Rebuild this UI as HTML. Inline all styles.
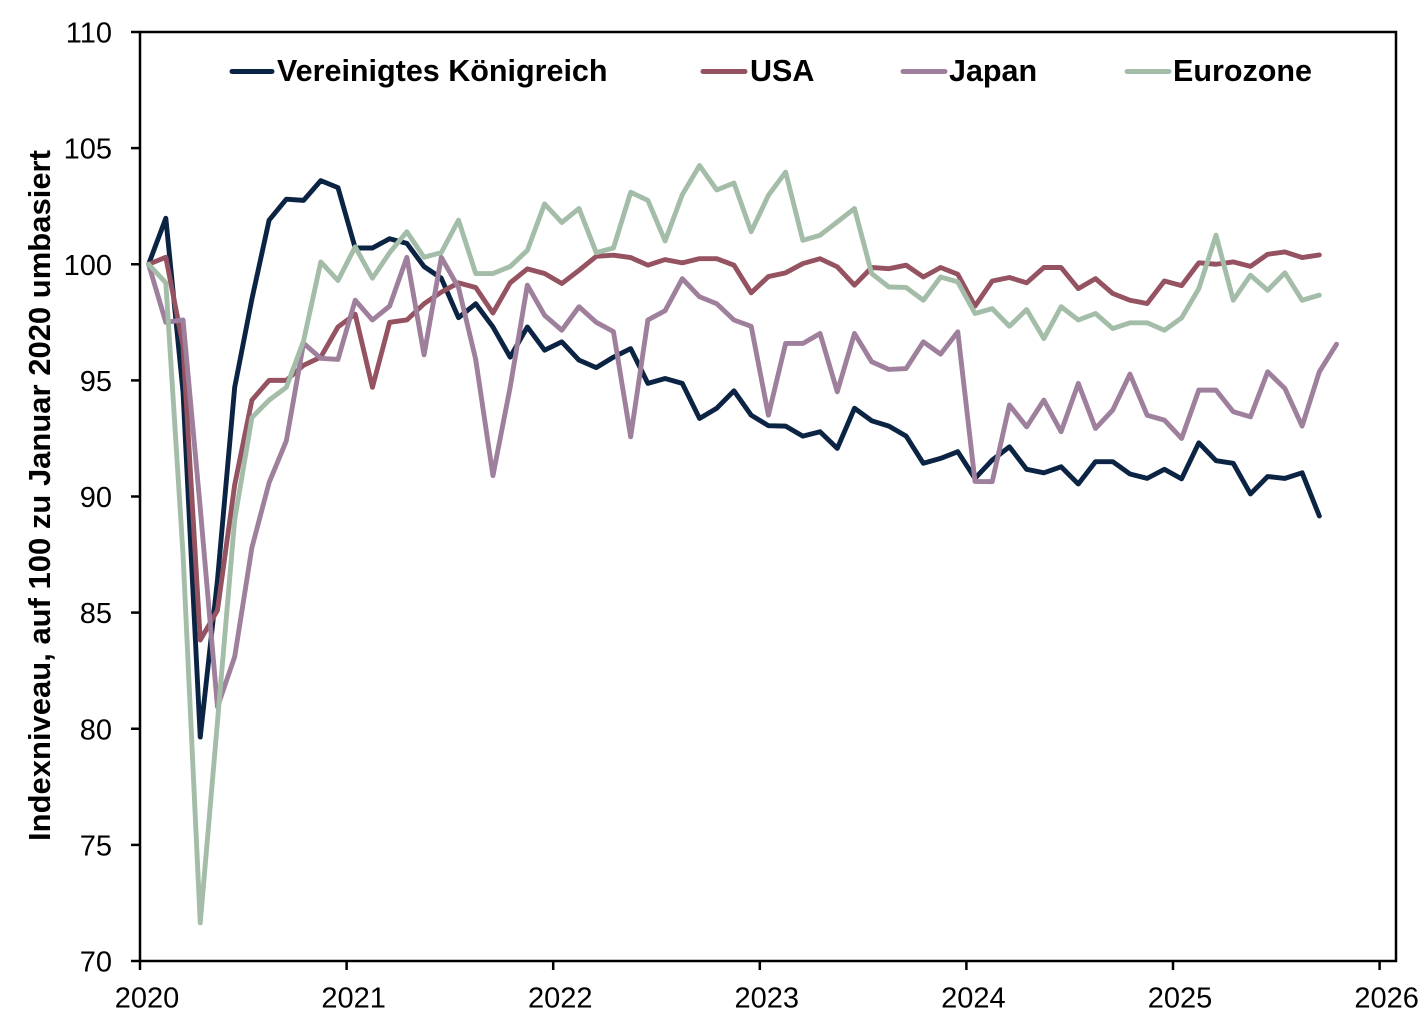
<!DOCTYPE html>
<html>
<head>
<meta charset="utf-8">
<style>
html,body{margin:0;padding:0;background:#fff;}
svg{display:block;}
</style>
</head>
<body>
<svg xmlns="http://www.w3.org/2000/svg" width="1425" height="1034" viewBox="0 0 1425 1034" font-family="'Liberation Sans', Arial, sans-serif">
<rect x="0" y="0" width="1425" height="1034" fill="#ffffff"/>

<!-- series -->
<g transform="matrix(17.2167 0 0 -23.225 148.6 2586.75)" fill="none" stroke-linejoin="round" stroke-linecap="round">
<polyline vector-effect="non-scaling-stroke" stroke="#0c2443" stroke-width="4.9" points="0,100 1,101.98 2,94.5 3,79.64 4,86.4 5,94.7 6,98.5 7,101.9 8,102.8 9,102.75 10,103.6 11,103.3 12,100.7 13,100.7 14,101.1 15,100.9 16,99.9 17,99.4 18,97.7 19,98.3 20,97.3 21,96.0 22,97.3 23,96.3 24,96.66 25,95.87 26,95.55 27,96.0 28,96.37 29,94.87 30,95.08 31,94.87 32,93.36 33,93.8 34,94.55 35,93.5 36,93.05 37,93.03 38,92.6 39,92.79 40,92.07 41,93.8 42,93.26 43,93.03 44,92.6 45,91.43 46,91.64 47,91.93 48,90.78 49,91.57 50,92.14 51,91.17 52,91.02 53,91.28 54,90.54 55,91.5 56,91.5 57,90.97 58,90.78 59,91.17 60,90.76 61,92.31 62,91.54 63,91.43 64,90.11 65,90.86 66,90.78 67,91.02 68,89.16"/>
<polyline vector-effect="non-scaling-stroke" stroke="#955260" stroke-width="4.9" points="0,100 1,100.3 2,96.5 3,83.82 4,85.1 5,90.5 6,94.15 7,95.0 8,95.0 9,95.65 10,96.0 11,97.3 12,97.85 13,94.7 14,97.5 15,97.6 16,98.3 17,98.8 18,99.2 19,99.0 20,97.9 21,99.2 22,99.8 23,99.6 24,99.17 25,99.74 26,100.34 27,100.39 28,100.29 29,99.96 30,100.2 31,100.06 32,100.24 33,100.24 34,99.96 35,98.77 36,99.47 37,99.63 38,100.03 39,100.24 40,99.89 41,99.1 42,99.86 43,99.81 44,99.96 45,99.45 46,99.86 47,99.57 48,98.2 49,99.28 50,99.43 51,99.2 52,99.86 53,99.86 54,98.95 55,99.38 56,98.74 57,98.45 58,98.31 59,99.28 60,99.08 61,100.06 62,100.0 63,100.1 64,99.91 65,100.43 66,100.53 67,100.29 68,100.4"/>
<polyline vector-effect="non-scaling-stroke" stroke="#9e7f9c" stroke-width="4.9" points="0,100 1,97.5 2,97.6 3,89.5 4,80.94 5,83.1 6,87.8 7,90.6 8,92.4 9,96.6 10,95.95 11,95.9 12,98.45 13,97.6 14,98.2 15,100.3 16,96.1 17,100.3 18,99.0 19,95.9 20,90.9 21,94.7 22,99.1 23,97.8 24,97.16 25,98.17 26,97.5 27,97.1 28,92.57 29,97.6 30,98.0 31,99.38 32,98.6 33,98.3 34,97.6 35,97.33 36,93.5 37,96.59 38,96.59 39,97.02 40,94.51 41,97.02 42,95.8 43,95.47 44,95.51 45,96.66 46,96.13 47,97.09 48,90.65 49,90.64 50,93.94 51,93.0 52,94.15 53,92.79 54,94.87 55,92.93 56,93.72 57,95.27 58,93.5 59,93.29 60,92.5 61,94.58 62,94.58 63,93.65 64,93.43 65,95.37 66,94.65 67,93.03 68,95.37 69,96.56"/>
<polyline vector-effect="non-scaling-stroke" stroke="#a4bda8" stroke-width="4.9" points="0,100 1,99.2 2,87.5 3,71.64 4,80.3 5,89.0 6,93.4 7,94.15 8,94.7 9,96.7 10,100.1 11,99.3 12,100.75 13,99.4 14,100.5 15,101.4 16,100.3 17,100.5 18,101.9 19,99.6 20,99.6 21,99.9 22,100.6 23,102.6 24,101.8 25,102.4 26,100.5 27,100.7 28,103.1 29,102.75 30,101.0 31,103.0 32,104.25 33,103.2 34,103.5 35,101.4 36,102.97 37,103.97 38,101.03 39,101.25 40,101.82 41,102.4 42,99.6 43,99.02 44,99.0 45,98.45 46,99.45 47,99.24 48,97.88 49,98.09 50,97.33 51,98.05 52,96.8 53,98.17 54,97.6 55,97.88 56,97.23 57,97.48 58,97.48 59,97.16 60,97.69 61,98.95 62,101.25 63,98.45 64,99.53 65,98.88 66,99.63 67,98.45 68,98.67"/>
</g>

<!-- frame -->
<rect x="140" y="32" width="1256" height="929" fill="none" stroke="#000" stroke-width="2.5"/>

<!-- y ticks -->
<g stroke="#000" stroke-width="2.5">
<line x1="131" y1="32" x2="140" y2="32"/>
<line x1="131" y1="148.1" x2="140" y2="148.1"/>
<line x1="131" y1="264.25" x2="140" y2="264.25"/>
<line x1="131" y1="380.4" x2="140" y2="380.4"/>
<line x1="131" y1="496.5" x2="140" y2="496.5"/>
<line x1="131" y1="612.6" x2="140" y2="612.6"/>
<line x1="131" y1="728.75" x2="140" y2="728.75"/>
<line x1="131" y1="844.9" x2="140" y2="844.9"/>
<line x1="131" y1="961" x2="140" y2="961"/>
</g>
<g font-size="29" fill="#000" text-anchor="end">
<text x="112" y="42.5">110</text>
<text x="112" y="158.6">105</text>
<text x="112" y="274.75">100</text>
<text x="112" y="390.9">95</text>
<text x="112" y="507">90</text>
<text x="112" y="623.1">85</text>
<text x="112" y="739.25">80</text>
<text x="112" y="855.4">75</text>
<text x="112" y="971.5">70</text>
</g>

<!-- x ticks -->
<g stroke="#000" stroke-width="2.5">
<line x1="140" y1="961" x2="140" y2="970"/>
<line x1="346.6" y1="961" x2="346.6" y2="970"/>
<line x1="553.2" y1="961" x2="553.2" y2="970"/>
<line x1="759.8" y1="961" x2="759.8" y2="970"/>
<line x1="966.4" y1="961" x2="966.4" y2="970"/>
<line x1="1173" y1="961" x2="1173" y2="970"/>
<line x1="1379.6" y1="961" x2="1379.6" y2="970"/>
</g>
<g font-size="29" fill="#000" text-anchor="middle">
<text x="147" y="1007.5">2020</text>
<text x="353.6" y="1007.5">2021</text>
<text x="560.2" y="1007.5">2022</text>
<text x="766.8" y="1007.5">2023</text>
<text x="973.4" y="1007.5">2024</text>
<text x="1180" y="1007.5">2025</text>
<text x="1386.6" y="1007.5">2026</text>
</g>

<!-- y axis title -->
<text transform="translate(50,495.5) rotate(-90)" text-anchor="middle" font-size="31" font-weight="bold" fill="#000">Indexniveau, auf 100 zu Januar 2020 umbasiert</text>

<!-- legend -->
<g stroke-width="5" stroke-linecap="round">
<line x1="232" y1="71.5" x2="272" y2="71.5" stroke="#0c2443"/>
<line x1="703" y1="71.5" x2="745" y2="71.5" stroke="#955260"/>
<line x1="903" y1="71.5" x2="945" y2="71.5" stroke="#9e7f9c"/>
<line x1="1127" y1="71.5" x2="1169" y2="71.5" stroke="#a4bda8"/>
</g>
<g font-size="30.5" font-weight="bold" fill="#000">
<text x="277" y="81">Vereinigtes Königreich</text>
<text x="750" y="81">USA</text>
<text x="949" y="81">Japan</text>
<text x="1173" y="81">Eurozone</text>
</g>
</svg>
</body>
</html>
